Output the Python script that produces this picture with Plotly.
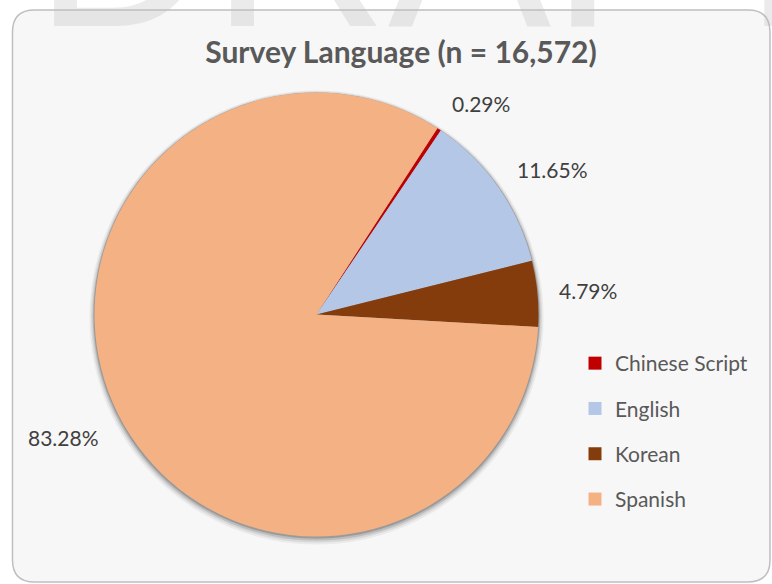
import math
import plotly.graph_objects as go

# data
languages = ['Chinese Script', 'English', 'Korean', 'Spanish']
shares = [0.29, 11.65, 4.79, 83.28]
colors = ['#c00000', '#b4c7e7', '#843c0c', '#f4b183']

W, H = 772, 584
cx, cy, rad = 316.5, 314.5, 222.0
start_angle = 33.0


def px_x(v):
    return v / W


def px_y(v):
    return 1 - v / H


def dom(cx, cy, r):
    return dict(x=[px_x(cx - r), px_x(cx + r)], y=[px_y(cy + r), px_y(cy - r)])


fig = go.Figure()

# soft shadow under the pie
for grow, drop, alpha in [(5, 3, 0.05), (3.5, 2.5, 0.08), (2, 2, 0.12), (1, 1, 0.18)]:
    fig.add_trace(go.Pie(
        values=[1], labels=['shadow'], domain=dom(cx, cy + drop, rad + grow),
        marker=dict(colors=['rgba(0,0,0,%s)' % alpha], line=dict(width=0)),
        textinfo='none', hoverinfo='skip', showlegend=False, sort=False,
    ))

fig.add_trace(go.Pie(
    labels=languages, values=shares, sort=False, direction='clockwise',
    rotation=start_angle, domain=dom(cx, cy, rad),
    marker=dict(colors=colors, line=dict(width=0)),
    textinfo='none', showlegend=False, hoverinfo='label+percent',
))

# legend entries (square swatches)
for name, col in zip(languages, colors):
    fig.add_trace(go.Scatter(
        x=[None], y=[None], mode='markers', name=name, legendgroup=name,
        marker=dict(symbol='square', size=13, color=col),
    ))

# percentage labels just outside each slice (outside-end style)
total = sum(shares)
acc = 0
annots = []
lbl_r = rad + 20
for s in shares:
    mid = start_angle + (acc + s / 2) / total * 360
    acc += s
    a = math.radians(mid)
    lx = cx + lbl_r * math.sin(a)
    ly = cy - lbl_r * math.cos(a)
    # lower half labels sit a bit further down
    ys = math.cos(a) * 11 if math.cos(a) > 0 else math.cos(a) * 11 - 9
    annots.append(dict(
        x=px_x(lx), y=px_y(ly), xref='paper', yref='paper',
        text='%.2f%%' % s, showarrow=False,
        xanchor='left' if math.sin(a) > 0 else 'right', yanchor='middle',
        yshift=ys,
        font=dict(family='Lato', size=21, color='#404040'),
    ))

# DRAFT watermark
annots.append(dict(
    x=px_x(442), y=px_y(80), xref='paper', yref='paper', text='DRAFT',
    showarrow=False, xanchor='center', yanchor='bottom',
    font=dict(family='Liberation Sans', size=245, color='rgba(190,190,190,0.3)'),
))

# chart area with rounded corners
x0, x1, y0, y1, cr = 12.5, 770, 10, 582, 22
path = ('M {a},{b} L {c},{b} Q {d},{b} {d},{e} L {d},{f} Q {d},{g} {c},{g} '
        'L {a},{g} Q {h},{g} {h},{f} L {h},{e} Q {h},{b} {a},{b} Z').format(
    a=px_x(x0 + cr), b=px_y(y0), c=px_x(x1 - cr), d=px_x(x1), e=px_y(y0 + cr),
    f=px_y(y1 - cr), g=px_y(y1), h=px_x(x0))

fig.update_layout(
    width=W, height=H,
    margin=dict(l=0, r=0, t=0, b=0),
    paper_bgcolor='white', plot_bgcolor='rgba(0,0,0,0)',
    title=dict(text='<b>Survey Language (n = 16,572)</b>', x=px_x(401), y=px_y(52),
               xanchor='center', yanchor='middle',
               font=dict(family='Lato', size=30, color='#595959')),
    xaxis=dict(visible=False), yaxis=dict(visible=False),
    shapes=[dict(type='path', path=path, xref='paper', yref='paper', layer='below',
                 fillcolor='#f7f7f7', line=dict(color='#bfbfbf', width=1.5))],
    annotations=annots,
    legend=dict(x=px_x(575), y=px_y(343), xanchor='left', yanchor='top',
                font=dict(family='Lato', size=21, color='#595959'),
                tracegroupgap=15, bgcolor='rgba(0,0,0,0)'),
)

fig.write_html('out.html', config={'displayModeBar': False},
               post_script="document.body.style.margin='0';")
